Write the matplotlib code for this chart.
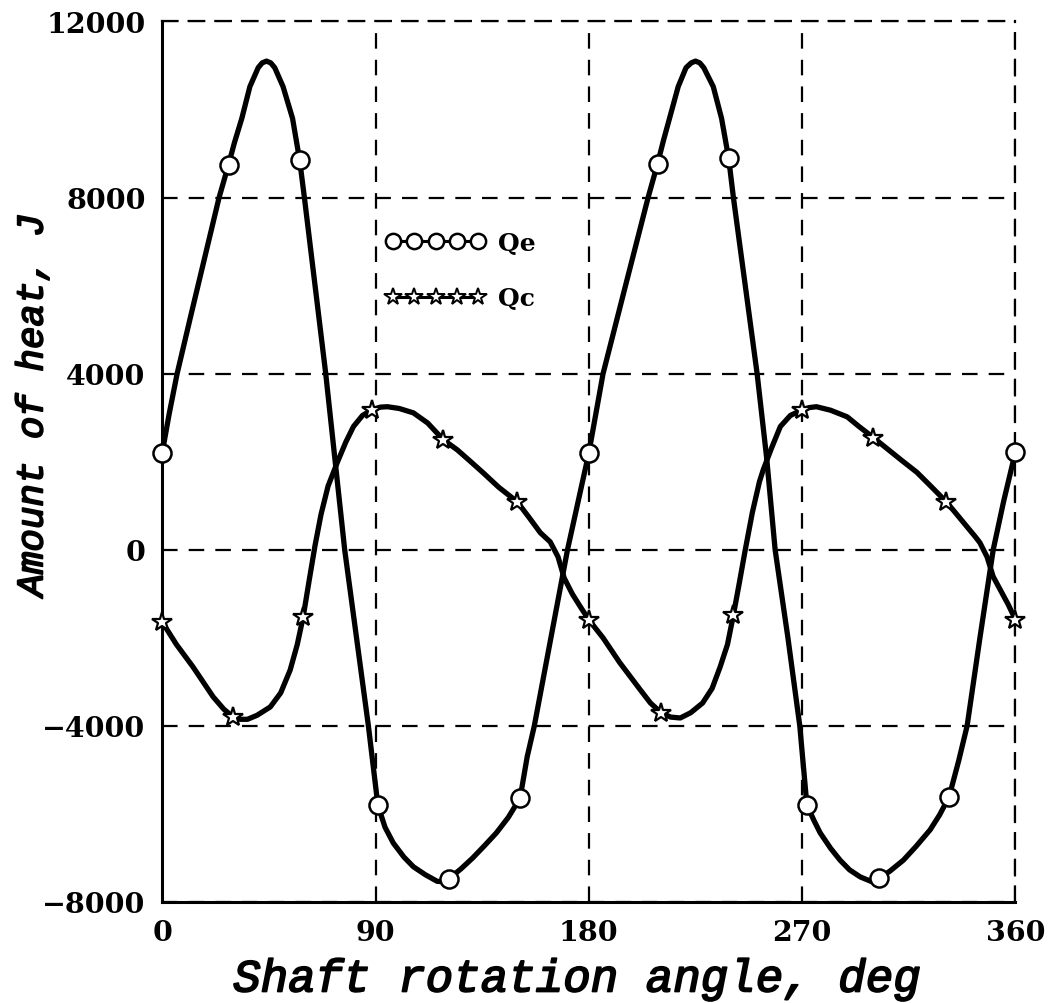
import numpy as np
import matplotlib
matplotlib.use('Agg')
import matplotlib.pyplot as plt
import matplotlib.patheffects as pe

plt.rcParams['font.family'] = 'DejaVu Serif'

# Qe curve
qe_x = [0, 3, 6.3, 12, 18, 24, 28, 30.5, 33.6, 37, 40.5, 42.2, 44, 45.8, 47.5, 51, 55, 58, 60,
        64.5, 69, 73, 77, 82, 87, 91, 94, 97.5, 102, 106, 111, 116, 118.5, 121, 126, 131, 136,
        141, 146, 151, 154, 157, 164, 171, 180, 183, 186, 195, 205, 209, 211.5, 214.3, 217.7,
        221, 223.2, 225, 226.8, 228.5, 232.5, 236, 239, 241, 246, 251, 255, 258.6, 264, 269,
        272, 275, 277.6, 282, 286, 290, 294.5, 299, 302.5, 307, 312.7, 318, 324, 328, 332, 336,
        339.6, 345, 350.6, 355, 360]
qe_y = [2200, 3100, 4000, 5300, 6650, 8000, 8750, 9250, 9800, 10520, 10950, 11060, 11100, 11060,
        10950, 10520, 9800, 8850, 8000, 6000, 4000, 2000, 0, -2000, -4000, -5800, -6300, -6660,
        -6980, -7200, -7380, -7530, -7540, -7470, -7250, -7000, -6720, -6430, -6080, -5640,
        -4700, -4000, -2000, 0, 2200, 3100, 4000, 5900, 8000, 8770, 9300, 9850, 10520, 10950,
        11060, 11100, 11060, 10950, 10520, 9800, 8890, 8000, 6000, 4000, 2100, 0, -2000, -4000,
        -5800, -6150, -6430, -6780, -7050, -7270, -7430, -7530, -7460, -7300, -7050, -6740,
        -6360, -6020, -5610, -4800, -4000, -2000, 0, 1100, 2230]
qe_mx = [0, 28, 58, 91, 121, 151, 180, 209, 239, 272, 302.5, 332, 360]
qe_my = [2200, 8750, 8850, -5800, -7470, -5640, 2200, 8770, 8890, -5800, -7460, -5610, 2230]

# Qc curve
qc_x = [0, 6, 13, 21.5, 26, 30, 33, 36, 40, 45.6, 50, 54, 57, 59.5, 62, 64.5, 67, 70, 74, 77.5,
        80.7, 84.5, 88.5, 92, 95, 100, 106, 112, 118.6, 124.5, 130, 135.4, 142, 149.8, 155,
        159.5, 163.7, 167, 169.6, 173, 176.5, 180, 186, 193, 201.7, 206, 210.5, 214.5, 218.6,
        223, 228, 232, 235.4, 238.5, 241, 243.5, 246, 249, 252, 253.6, 257, 260.8, 265, 270,
        273, 276, 282, 289, 294, 300, 306, 312, 318.4, 324, 330.8, 335, 339.6, 343, 345, 348,
        350.6, 354, 357, 360]
qc_y = [-1640, -2150, -2660, -3340, -3620, -3800, -3850, -3850, -3760, -3570, -3250, -2730,
        -2150, -1520, -700, 100, 800, 1450, 2000, 2450, 2800, 3050, 3180, 3240, 3250, 3210, 3110,
        2880, 2500, 2270, 2010, 1750, 1420, 1090, 720, 390, 180, -160, -640, -1000, -1300, -1590,
        -2000, -2560, -3180, -3480, -3700, -3800, -3820, -3700, -3480, -3150, -2660, -2150,
        -1480, -750, 0, 850, 1550, 1820, 2300, 2800, 3050, 3180, 3230, 3250, 3170, 3020, 2800,
        2550, 2290, 2030, 1760, 1460, 1090, 820, 520, 300, 160, -160, -610, -950, -1250, -1590]
qc_mx = [0, 30, 59.5, 88.5, 118.6, 149.8, 180, 210.5, 241, 270, 300, 330.8, 360]
qc_my = [-1640, -3800, -1520, 3180, 2500, 1090, -1590, -3700, -1480, 3180, 2550, 1090, -1590]

xticks = [0, 90, 180, 270, 360]
yticks = [-8000, -4000, 0, 4000, 8000, 12000]

fig = plt.figure(figsize=(10.6, 10.04), dpi=100)
ax = fig.add_axes([0.153, 0.1006, 0.805, 0.877])

dash = (0, (7, 5))
ax.plot(qe_x, qe_y, color='black', lw=3.8, solid_capstyle='round', solid_joinstyle='round')
ax.plot(qc_x, qc_y, color='black', lw=3.8, solid_capstyle='round', solid_joinstyle='round')
ax.plot(qe_mx, qe_my, 'o', ms=13, mfc='white', mec='black', mew=1.8, clip_on=False, zorder=5)
ax.plot(qc_mx, qc_my, '*', ms=15, mfc='white', mec='black', mew=1.6, clip_on=False, zorder=5)

# legend handles
h1, = ax.plot([], [], '-o', color='black', lw=2.2, ms=11, mfc='white', mec='black', mew=1.8)
h2, = ax.plot([], [], '-*', color='black', lw=2.2, ms=13, mfc='white', mec='black', mew=1.4)
ax.legend([h1, h2], ['Qe', 'Qc'], numpoints=5, handlelength=4.0, frameon=False,
          loc='upper left', bbox_to_anchor=(0.262, 0.762), borderaxespad=0, borderpad=0,
          handletextpad=0.5, labelspacing=1.25, prop={'weight': 'bold', 'size': 18})

ax.set_xlim(0, 360)
ax.set_ylim(-8000, 12000)
ax.set_xticks(xticks)
ax.set_yticks(yticks)
ax.grid(True, color='black', lw=1.6, linestyle=dash)
ax.spines['top'].set_linestyle(dash)
ax.spines['right'].set_linestyle(dash)
for s in ['top', 'right']:
    ax.spines[s].set_linewidth(1.6)
for s in ['left', 'bottom']:
    ax.spines[s].set_linewidth(2.2)
ax.tick_params(length=0, labelsize=20.5, pad=12)
for lab in ax.get_xticklabels() + ax.get_yticklabels():
    lab.set_fontweight('bold')

# monospaced italic labels, thickened a little with a stroke
lab_font = {'family': 'Liberation Mono', 'style': 'italic'}
thick = [pe.withStroke(linewidth=1.3, foreground='black')]
ax.set_xlabel('Shaft rotation angle, deg', fontsize=33, path_effects=thick, **lab_font)
ax.set_ylabel('Amount of heat, J', fontsize=27, path_effects=thick, **lab_font)
ax.xaxis.set_label_coords(0.486, -0.063)
ax.yaxis.set_label_coords(-0.131, 0.564)

fig.savefig('out.png', dpi=100)
